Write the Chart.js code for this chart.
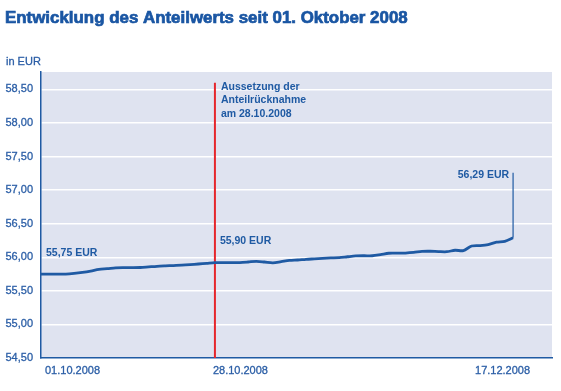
<!DOCTYPE html>
<html>
<head>
<meta charset="utf-8">
<script src="https://cdn.jsdelivr.net/npm/chart.js@4/dist/chart.umd.min.js"></script>
<style>
  html, body { margin: 0; padding: 0; background: #ffffff; }
  #wrap { width: 561px; height: 391px; position: relative; }
</style>
</head>
<body>
<div id="wrap"><canvas id="c" width="561" height="391"></canvas></div>
<script>
// ---- data ----
const chartTitle = 'Entwicklung des Anteilwerts seit 01. Oktober 2008';
const unitLabel = 'in EUR';
// daily unit values (index 0 = 01.10.2008, index 57 = 17.12.2008)
const anteilwert = [
  55.75, 55.75, 55.75, 55.75, 55.76, 55.775, 55.795, 55.82, 55.83, 55.843,
  55.846, 55.846, 55.848, 55.857, 55.866, 55.872, 55.877, 55.882, 55.89, 55.90,
  55.91, 55.92, 55.92, 55.92, 55.922, 55.93, 55.94, 55.93, 55.918, 55.935,
  55.953, 55.96, 55.97, 55.977, 55.984, 55.99, 55.995, 56.008, 56.02, 56.023,
  56.023, 56.04, 56.06, 56.061, 56.063, 56.072, 56.088, 56.09, 56.085, 56.083,
  56.105, 56.10, 56.168, 56.175, 56.19, 56.225, 56.237, 56.29
];
const xTickIndex = [0, 21, 57];
const xTickLabels = ['01.10.2008', '28.10.2008', '17.12.2008'];
const yTickValues = [54.5, 55.0, 55.5, 56.0, 56.5, 57.0, 57.5, 58.0, 58.5];
const suspensionIndex = 21;
const noteLines = ['Aussetzung der', 'Anteilrücknahme', 'am 28.10.2008'];
const startLabel = '55,75 EUR';
const midLabel = '55,90 EUR';
const endLabel = '56,29 EUR';
const endCalloutTop = 57.26;
const suspensionTop = 58.6;

// ---- styles ----
const BLUE = '#1f5aa3';
const TEXT = '#2b5ea6';
const RED = '#e5262c';
const BG = '#dfe3f0';
const FONT = '"Liberation Sans", Arial, Helvetica, sans-serif';

const decoPlugin = {
  id: 'deco',
  beforeDraw(chart) {
    const { ctx, chartArea: a } = chart;
    ctx.save();
    ctx.fillStyle = BG;
    ctx.fillRect(a.left, a.top, a.right - a.left, a.bottom - a.top);
    ctx.restore();
  },
  afterDraw(chart) {
    const { ctx } = chart;
    const xs = chart.scales.x, ys = chart.scales.y;
    ctx.save();
    // title
    let size = 17;
    ctx.font = 'bold ' + size + 'px ' + FONT;
    const w = ctx.measureText(chartTitle).width;
    size = size * 403 / w;
    ctx.font = 'bold ' + size.toFixed(2) + 'px ' + FONT;
    ctx.fillStyle = '#1a56a3';
    ctx.strokeStyle = '#1a56a3';
    ctx.lineWidth = 0.7;
    ctx.textBaseline = 'alphabetic';
    ctx.textAlign = 'left';
    ctx.fillText(chartTitle, 5, 23);
    ctx.strokeText(chartTitle, 5, 23);

    // unit label
    ctx.font = '11px ' + FONT;
    ctx.fillStyle = TEXT;
    ctx.strokeStyle = TEXT;
    ctx.lineWidth = 0.3;
    ctx.textBaseline = 'middle';
    ctx.fillText(unitLabel, 6, 62);
    ctx.strokeText(unitLabel, 6, 62);

    // x labels
    const xOff = [4, -2, 17];
    const xAlign = ['left', 'left', 'right'];
    xTickIndex.forEach((idx, i) => {
      ctx.textAlign = xAlign[i];
      const px = xs.getPixelForValue(idx) + xOff[i];
      ctx.fillText(xTickLabels[i], px, 371);
      ctx.strokeText(xTickLabels[i], px, 371);
    });

    // annotations
    ctx.font = 'bold 10.5px ' + FONT;
    ctx.fillStyle = BLUE;
    ctx.textAlign = 'left';
    ctx.fillText(startLabel, xs.getPixelForValue(0) + 5, ys.getPixelForValue(anteilwert[0]) - 21);
    ctx.fillText(midLabel, xs.getPixelForValue(suspensionIndex) + 5, ys.getPixelForValue(anteilwert[suspensionIndex]) - 22);
    ctx.textAlign = 'right';
    ctx.fillText(endLabel, xs.getPixelForValue(57) - 4, ys.getPixelForValue(endCalloutTop) + 2);
    ctx.textAlign = 'left';
    const nx = xs.getPixelForValue(suspensionIndex) + 6;
    const ny = ys.getPixelForValue(suspensionTop) + 4;
    noteLines.forEach((t, i) => ctx.fillText(t, nx, ny + i * 13.5));
    ctx.restore();
  }
};

const lineData = anteilwert.map((v, i) => ({ x: i, y: v }));

new Chart(document.getElementById('c'), {
  type: 'line',
  data: {
    datasets: [
      {
        data: [{ x: suspensionIndex, y: 54.5 }, { x: suspensionIndex, y: suspensionTop }],
        borderColor: RED, borderWidth: 2, pointRadius: 0, tension: 0, order: 2
      },
      {
        data: lineData,
        borderColor: BLUE, borderWidth: 2.8, pointRadius: 0, tension: 0.3, order: 1
      },
      {
        data: [{ x: 57, y: anteilwert[57] }, { x: 57, y: endCalloutTop }],
        borderColor: BLUE, borderWidth: 1.2, pointRadius: 0, tension: 0, order: 0
      }
    ]
  },
  options: {
    responsive: false,
    animation: false,
    devicePixelRatio: 1,
    layout: { padding: { top: 72, right: 9, left: 0, bottom: 0 } },
    plugins: { legend: { display: false }, tooltip: { enabled: false }, title: { display: false } },
    scales: {
      x: {
        type: 'linear', min: 0, max: 61.7,
        grid: { display: false, drawTicks: false },
        border: { display: true, color: BLUE, width: 1.5 },
        ticks: { display: false },
        afterFit(s) { s.height = 33; }
      },
      y: {
        type: 'linear', min: 54.5, max: 58.76,
        afterBuildTicks(s) { s.ticks = yTickValues.map(v => ({ value: v })); },
        grid: {
          drawTicks: false,
          lineWidth: 1.5,
          color: (c) => (c.tick && c.tick.value === 54.5) ? 'rgba(0,0,0,0)' : '#ffffff'
        },
        border: { display: true, color: BLUE, width: 1.5 },
        ticks: {
          padding: 8,
          color: TEXT,
          textStrokeColor: TEXT,
          textStrokeWidth: 0.3,
          font: { family: FONT, size: 11 },
          callback: (v) => Number(v).toFixed(2).replace('.', ',')
        },
        afterFit(s) { s.width = 41; }
      }
    }
  },
  plugins: [decoPlugin]
});
</script>
</body>
</html>
